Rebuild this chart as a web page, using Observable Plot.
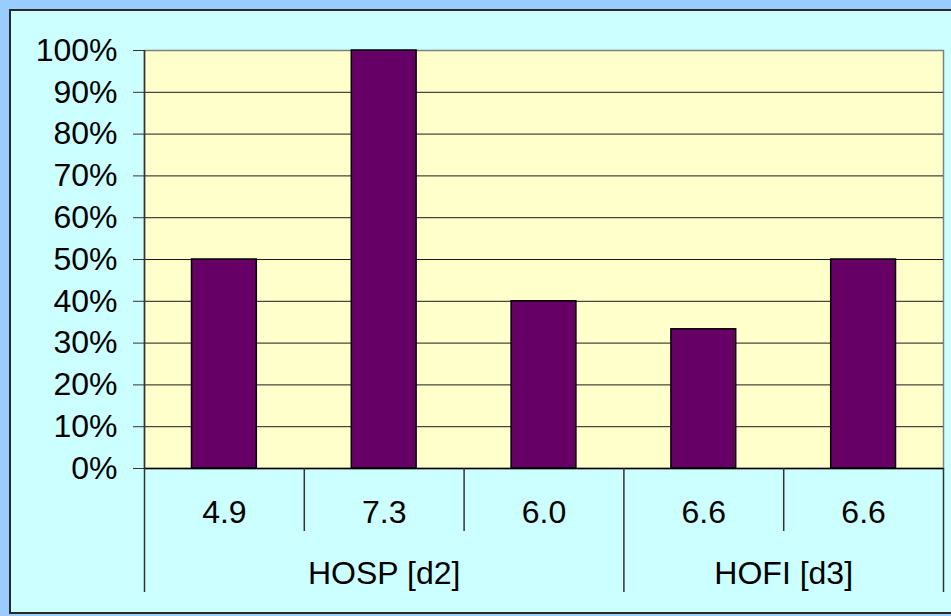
<!DOCTYPE html>
<html>
<head>
<meta charset="utf-8">
<script src="https://cdn.jsdelivr.net/npm/d3@7"></script>
<script src="https://cdn.jsdelivr.net/npm/@observablehq/plot@0.6"></script>
<style>
  html, body { margin: 0; padding: 0; }
  #wrap { position: relative; width: 951px; height: 616px; background: #99CCFF; overflow: hidden; }
  #panel { position: absolute; left: 9px; top: 9px; width: 960px; height: 605px; background: #CCFFFF;
           border: 2px solid #2a2a2a; box-sizing: border-box; }
  #chart { position: absolute; left: 0; top: 0; }
</style>
</head>
<body>
<div id="wrap"><div id="panel"></div><div id="chart"></div></div>
<script>
// ---- data ----
const categories = ["4.9", "7.3", "6.0", "6.6", "6.6"];
const values = [50, 100, 40, 33.3, 50];
const groups = ["HOSP [d2]", "HOFI [d3]"];
const groupSizes = [3, 2];
const yTicks = [0, 10, 20, 30, 40, 50, 60, 70, 80, 90, 100];

// ---- derived tables ----
const data = categories.map((c, i) => ({ i, label: c, value: values[i] }));
let acc = 0;
const groupData = groups.map((g, k) => {
  const start = acc; acc += groupSizes[k];
  return { name: g, start, end: acc };
});
const boundaries = d3.range(categories.length + 1);
const groupEdges = [0, ...groupData.map(g => g.end)];
const innerEdges = boundaries.filter(b => !groupEdges.includes(b));

const chart = Plot.plot({
  width: 951,
  height: 616,
  marginLeft: 144,
  marginRight: 8,
  marginTop: 50,
  marginBottom: 148,
  style: {
    background: "transparent",
    fontFamily: "'Liberation Sans', Arial, sans-serif",
    fontSize: "32px",
    color: "#000",
    overflow: "visible"
  },
  x: { type: "linear", domain: [0, categories.length], axis: null },
  y: { domain: [0, 100], axis: null },
  marks: [
    Plot.frame({ fill: "#FFFFCC", stroke: "#808080", strokeWidth: 1.5 }),
    Plot.gridY(yTicks.filter(t => t > 0 && t < 100), { stroke: "#1a1a1a", strokeOpacity: 1 }),
    Plot.rectY(data, {
      x: "i", interval: 1, y: "value",
      insetLeft: 47.5, insetRight: 47.5,
      fill: "#660066", stroke: "#000", strokeWidth: 1.5
    }),
    Plot.axisY({
      ticks: yTicks, tickFormat: d => d + "%", label: null,
      tickSize: 11, tickPadding: 16, fontSize: 32, stroke: "#333"
    }),
    Plot.ruleY([0], { stroke: "#000", strokeWidth: 1.5 }),
    Plot.ruleX([0], { stroke: "#333", strokeWidth: 1.5 }),
    Plot.axisX(innerEdges, { tickSize: 63, tickFormat: () => "", label: null, stroke: "#333", strokeWidth: 1.5 }),
    Plot.axisX(groupEdges, { tickSize: 124, tickFormat: () => "", label: null, stroke: "#333", strokeWidth: 1.5 }),
    Plot.text(data, {
      x: d => d.i + 0.5, text: "label",
      frameAnchor: "bottom", lineAnchor: "middle", dy: 44, fontSize: 32, fill: "#000"
    }),
    Plot.text(groupData, {
      x: d => (d.start + d.end) / 2, text: "name",
      frameAnchor: "bottom", lineAnchor: "middle", dy: 105, fontSize: 32, fill: "#000"
    })
  ]
});
document.getElementById("chart").appendChild(chart);
</script>
</body>
</html>
